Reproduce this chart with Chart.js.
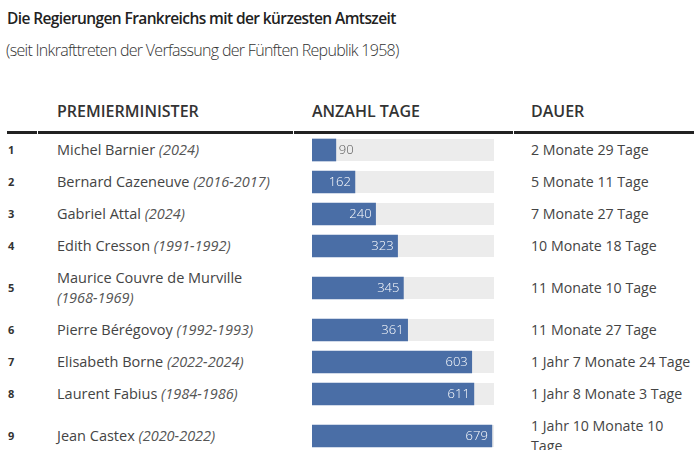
<!DOCTYPE html>
<html>
<head>
<meta charset="utf-8">
<script src="https://cdn.jsdelivr.net/npm/chart.js@4.4.1/dist/chart.umd.min.js"></script>
<style>
html,body{margin:0;padding:0;background:#fff;width:700px;height:450px;overflow:hidden;font-family:"Open Sans",sans-serif;color:#444;}
#title{position:absolute;left:7px;top:7px;font-size:15.5px;font-weight:600;color:#222;white-space:nowrap;letter-spacing:-0.6px;}
#subtitle{position:absolute;left:6px;top:39px;font-size:16px;font-weight:300;color:#333;white-space:nowrap;letter-spacing:-0.7px;}
table{position:absolute;left:6px;top:90px;border-collapse:separate;border-spacing:1px 0;table-layout:fixed;width:689px;}
th{height:41px;padding:0;text-align:left;vertical-align:middle;border-bottom:3px solid #222;font-size:16px;font-weight:600;color:#333;white-space:nowrap;}
td{padding:6px 0;line-height:20px;vertical-align:middle;font-size:14.5px;color:#444;}
.c1{width:30px;padding-left:1px;}
.c2{width:255px;padding-left:19px;}
.c3{width:219px;padding-left:18px;}
.c4{width:180px;padding-left:17px;}
td.c1{font-size:11px;font-weight:700;color:#333;}
td.c2 i{color:#555;white-space:nowrap;}
td.c4{font-size:14.2px;}
#chartBox{position:absolute;left:0;top:0;width:700px;height:450px;pointer-events:none;}
</style>
</head>
<body>
<div id="title"></div>
<div id="subtitle"></div>
<table id="tbl">
<colgroup><col style="width:30px"><col style="width:255px"><col style="width:219px"><col style="width:180px"></colgroup>
<thead><tr><th class="c1"></th><th class="c2" id="h1"></th><th class="c3" id="h2"></th><th class="c4" id="h3"></th></tr></thead>
<tbody id="rows"></tbody>
</table>
<div id="chartBox"><canvas id="c" width="700" height="450"></canvas></div>
<script>
// ---- data ----
const titleText = "Die Regierungen Frankreichs mit der kürzesten Amtszeit";
const subtitleText = "(seit Inkrafttreten der Verfassung der Fünften Republik 1958)";
const headers = ["PREMIERMINISTER", "ANZAHL TAGE", "DAUER"];
const ranks = [1, 2, 3, 4, 5, 6, 7, 8, 9];
const names = ["Michel Barnier", "Bernard Cazeneuve", "Gabriel Attal", "Edith Cresson",
  "Maurice Couvre de Murville", "Pierre Bérégovoy", "Elisabeth Borne", "Laurent Fabius", "Jean Castex"];
const terms = ["(2024)", "(2016-2017)", "(2024)", "(1991-1992)", "(1968-1969)",
  "(1992-1993)", "(2022-2024)", "(1984-1986)", "(2020-2022)"];
const days = [90, 162, 240, 323, 345, 361, 603, 611, 679];
const durations = ["2 Monate 29 Tage", "5 Monate 11 Tage", "7 Monate 27 Tage", "10 Monate 18 Tage",
  "11 Monate 10 Tage", "11 Monate 27 Tage", "1 Jahr 7 Monate 24 Tage", "1 Jahr 8 Monate 3 Tage",
  "1 Jahr 10 Monate 10 Tage"];
const axisMax = 687;

// ---- text layout ----
document.getElementById('title').textContent = titleText;
document.getElementById('subtitle').textContent = subtitleText;
document.getElementById('h1').textContent = headers[0];
document.getElementById('h2').textContent = headers[1];
document.getElementById('h3').textContent = headers[2];
const tbody = document.getElementById('rows');
const barCells = [];
ranks.forEach((r, i) => {
  const tr = document.createElement('tr');
  const a = document.createElement('td'); a.className = 'c1'; a.textContent = r;
  const b = document.createElement('td'); b.className = 'c2';
  b.appendChild(document.createTextNode(names[i] + ' '));
  const it = document.createElement('i'); it.textContent = terms[i]; b.appendChild(it);
  const c = document.createElement('td'); c.className = 'c3'; c.innerHTML = '&nbsp;';
  const d = document.createElement('td'); d.className = 'c4'; d.textContent = durations[i];
  tr.append(a, b, c, d); tbody.appendChild(tr); barCells.push(c);
});

// ---- chart ----
const trackPlugin = {
  id: 'track',
  beforeDatasetsDraw(chart) {
    const {ctx, chartArea} = chart;
    const meta = chart.getDatasetMeta(0);
    ctx.save();
    ctx.fillStyle = '#ececec';
    meta.data.forEach(bar => {
      ctx.fillRect(chartArea.left, bar.y - bar.height / 2, chartArea.right - chartArea.left, bar.height);
    });
    ctx.restore();
  }
};
const labelPlugin = {
  id: 'labels',
  afterDatasetsDraw(chart) {
    const {ctx} = chart;
    const meta = chart.getDatasetMeta(0);
    ctx.save();
    ctx.font = '300 13px "Open Sans"';
    ctx.textBaseline = 'middle';
    meta.data.forEach((bar, i) => {
      const txt = String(days[i]);
      const w = ctx.measureText(txt).width;
      if (bar.x - bar.base < w + 10) {
        ctx.fillStyle = '#555';
        ctx.textAlign = 'left';
        ctx.fillText(txt, bar.x + 3, bar.y + 0.5);
      } else {
        ctx.fillStyle = '#ffffff';
        ctx.textAlign = 'right';
        ctx.fillText(txt, bar.x - 4, bar.y + 0.5);
      }
    });
    ctx.restore();
  }
};

function build() {
  const canvas = document.getElementById('c');
  const top0 = canvas.getBoundingClientRect().top;
  const centers = barCells.map(td => { const r = td.getBoundingClientRect(); return r.top + r.height / 2 - top0; });
  const chart = new Chart(canvas, {
    type: 'bar',
    data: {
      labels: names,
      datasets: [{
        data: days.map((d, i) => ({x: d, y: centers[i]})),
        backgroundColor: '#4a6ea6',
        borderWidth: 0,
        barThickness: 22,
        grouped: false
      }]
    },
    options: {
      indexAxis: 'y',
      responsive: false,
      devicePixelRatio: 1,
      animation: false,
      layout: {padding: {left: 312, right: 206, top: 0, bottom: 0}},
      scales: {
        x: {type: 'linear', min: 0, max: axisMax, display: false, offset: false, grace: 0},
        y: {type: 'linear', min: 0, max: 450, reverse: true, display: false, offset: false, grace: 0}
      },
      plugins: {legend: {display: false}, tooltip: {enabled: false}, title: {display: false}}
    },
    plugins: [trackPlugin, labelPlugin]
  });
  // map each row's pixel centre back through the chart's own y scale
  const ys = chart.scales.y;
  chart.data.datasets[0].data = days.map((d, i) => ({x: d, y: ys.getValueForPixel(centers[i])}));
  chart.update('none');
}
Promise.all([
  document.fonts.load('300 15px "Open Sans"'),
  document.fonts.load('400 15px "Open Sans"'),
  document.fonts.load('italic 400 15px "Open Sans"'),
  document.fonts.load('600 15px "Open Sans"'),
  document.fonts.load('700 15px "Open Sans"')
]).catch(() => {}).then(() => document.fonts.ready).then(build);
</script>
</body>
</html>
